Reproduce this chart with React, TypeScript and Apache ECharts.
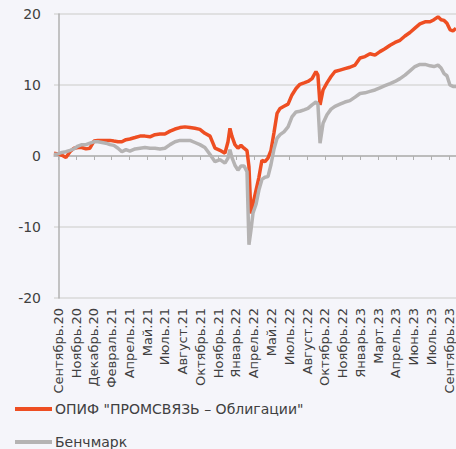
import React, { useEffect, useRef } from "react";
import * as echarts from "echarts";

const xLabels = [
  "Сентябрь.20", "Ноябрь.20", "Декабрь.20", "Февраль.21", "Апрель.21", "Май.21",
  "Июль.21", "Август.21", "Октябрь.21", "Ноябрь.21", "Январь.22", "Апрель.22",
  "Май.22", "Июль.22", "Август.22", "Октябрь.22", "Ноябрь.22", "Январь.23",
  "Март.23", "Апрель.23", "Июнь.23", "Июль.23", "Сентябрь.23",
];

// sample positions, in units of label steps (0 = first label)
const xPos = [
  -0.24, -0.02, 0.21, 0.43, 0.66, 0.88, 1.11, 1.33, 1.56, 1.78, 2.01, 2.23, 2.46, 2.68, 2.91,
  3.13, 3.36, 3.58, 3.81, 4.03, 4.32, 4.6, 4.88, 5.16, 5.44, 5.72, 6.0, 6.29, 6.57, 6.85,
  7.13, 7.41, 7.69, 7.97, 8.25, 8.54, 8.82, 9.1, 9.38, 9.55, 9.66, 9.77, 9.94, 10.11, 10.28,
  10.45, 10.62, 10.73, 10.84, 10.96, 11.13, 11.29, 11.46, 11.63, 11.8, 11.97, 12.14, 12.31, 12.48, 12.7,
  12.93, 13.15, 13.38, 13.6, 13.83, 14.05, 14.28, 14.5, 14.61, 14.73, 14.9, 15.12, 15.35, 15.57, 15.85,
  16.13, 16.41, 16.7, 16.98, 17.26, 17.54, 17.82, 18.1, 18.38, 18.67, 18.95, 19.23, 19.51, 19.79, 20.07,
  20.35, 20.64, 20.92, 21.14, 21.37, 21.54, 21.71, 21.87, 22.04, 22.21, 22.38,
];

const fundValues = [
  0.4, 0.3, 0.1, -0.2, 0.6, 1.1, 1.2, 1.2, 1.0, 1.1, 2.1, 2.2, 2.2, 2.2, 2.2,
  2.1, 2.0, 2.0, 2.3, 2.4, 2.6, 2.8, 2.8, 2.7, 3.0, 3.1, 3.1, 3.5, 3.8, 4.0,
  4.1, 4.0, 3.9, 3.75, 3.2, 2.8, 1.1, 0.8, 0.4, 2.0, 3.9, 2.8, 1.6, 1.1, 1.5,
  1.1, 0.75, -1.5, -8.1, -6.7, -4.8, -3.0, -0.6, -0.8, -0.3, 0.8, 3.3, 6.0, 6.7, 7.0,
  7.3, 8.6, 9.5, 10.1, 10.3, 10.5, 10.9, 11.9, 11.4, 7.2, 9.3, 10.3, 11.2, 11.9, 12.1,
  12.3, 12.5, 12.8, 13.8, 14.0, 14.4, 14.2, 14.7, 15.1, 15.6, 16.0, 16.3, 16.9, 17.4, 18.0,
  18.6, 18.9, 18.9, 19.2, 19.6, 19.2, 19.1, 18.7, 17.8, 17.6, 18.0,
];

const benchValues = [
  0.2, 0.3, 0.5, 0.6, 0.8, 1.0, 1.4, 1.6, 1.6, 1.8, 2.0, 2.0, 1.9, 1.8, 1.6,
  1.5, 1.1, 0.6, 0.9, 0.7, 1.0, 1.1, 1.2, 1.1, 1.1, 1.0, 1.1, 1.6, 2.0, 2.2,
  2.2, 2.2, 1.9, 1.6, 1.2, 0.2, -0.8, -0.5, -1.0, -0.3, 0.9, -0.2, -1.3, -2.0, -1.4,
  -1.4, -2.2, -12.5, -10.5, -8.0, -6.8, -4.8, -3.3, -3.0, -2.9, -1.2, 1.0, 2.5, 3.0, 3.4,
  4.1, 5.5, 6.2, 6.3, 6.5, 6.7, 7.2, 7.6, 7.3, 1.8, 4.6, 5.8, 6.6, 7.0, 7.3,
  7.6, 7.8, 8.3, 8.8, 8.9, 9.1, 9.3, 9.6, 9.9, 10.2, 10.5, 10.9, 11.4, 12.0, 12.6,
  12.9, 12.9, 12.7, 12.6, 12.8, 12.4, 11.6, 11.3, 10.0, 9.8, 9.8,
];

const yTicks = { min: -20, max: 20, step: 10 };
const seriesNames = ['ОПИФ "ПРОМСВЯЗЬ – Облигации"', "Бенчмарк"];

const FONT = "DejaVu Sans";

export default function App() {
  const ref = useRef<HTMLDivElement>(null);
  useEffect(() => {
    if (!ref.current) return;
    const chart = echarts.init(ref.current, null, { renderer: "svg" });
    const labelIdx = xLabels.map((_, i) => i);
    chart.setOption({
      animation: false,
      backgroundColor: "#F5F5FA",
      grid: { left: 54, right: 0, top: 14, bottom: 151, containLabel: false },
      xAxis: {
        type: "value",
        min: xPos[0],
        max: xPos[xPos.length - 1],
        splitLine: { show: false },
        axisLine: { show: true, lineStyle: { color: "#B0B0B0", width: 1.5 } },
        axisTick: { show: true, customValues: labelIdx, length: 4, lineStyle: { color: "#B0B0B0" } },
        axisLabel: {
          customValues: labelIdx,
          rotate: 90,
          margin: 10,
          fontSize: 13,
          fontFamily: FONT,
          color: "#404040",
          formatter: (v: number) => xLabels[Math.round(v)] ?? "",
        },
      },
      yAxis: {
        type: "value",
        min: yTicks.min,
        max: yTicks.max,
        interval: yTicks.step,
        axisLine: { show: true, lineStyle: { color: "#B0B0B0", width: 1.5 } },
        axisTick: { show: false },
        splitLine: { show: true, lineStyle: { color: "#D9D9D9", width: 1.5 } },
        axisLabel: { margin: 13, fontSize: 14, fontFamily: FONT, color: "#404040" },
      },
      legend: {
        orient: "vertical",
        left: 15,
        top: 402,
        padding: 0,
        itemGap: 19,
        itemWidth: 37,
        itemHeight: 4,
        icon: "rect",
        textStyle: { fontSize: 14, fontFamily: FONT, color: "#404040", padding: [0, 0, 0, -2] },
        data: seriesNames,
      },
      series: [
        {
          name: seriesNames[0],
          type: "line",
          showSymbol: false,
          symbol: "none",
          color: "#EE4E22",
          lineStyle: { color: "#EE4E22", width: 3.5 },
          data: xPos.map((x, i) => [x, fundValues[i]]),
        },
        {
          name: seriesNames[1],
          type: "line",
          showSymbol: false,
          symbol: "none",
          color: "#B5B3B3",
          lineStyle: { color: "#B5B3B3", width: 3.5 },
          data: xPos.map((x, i) => [x, benchValues[i]]),
        },
      ],
    });
    return () => chart.dispose();
  }, []);
  return (
    <div
      ref={ref}
      style={{ position: "fixed", left: 0, top: 0, width: 456, height: 449 }}
    />
  );
}
